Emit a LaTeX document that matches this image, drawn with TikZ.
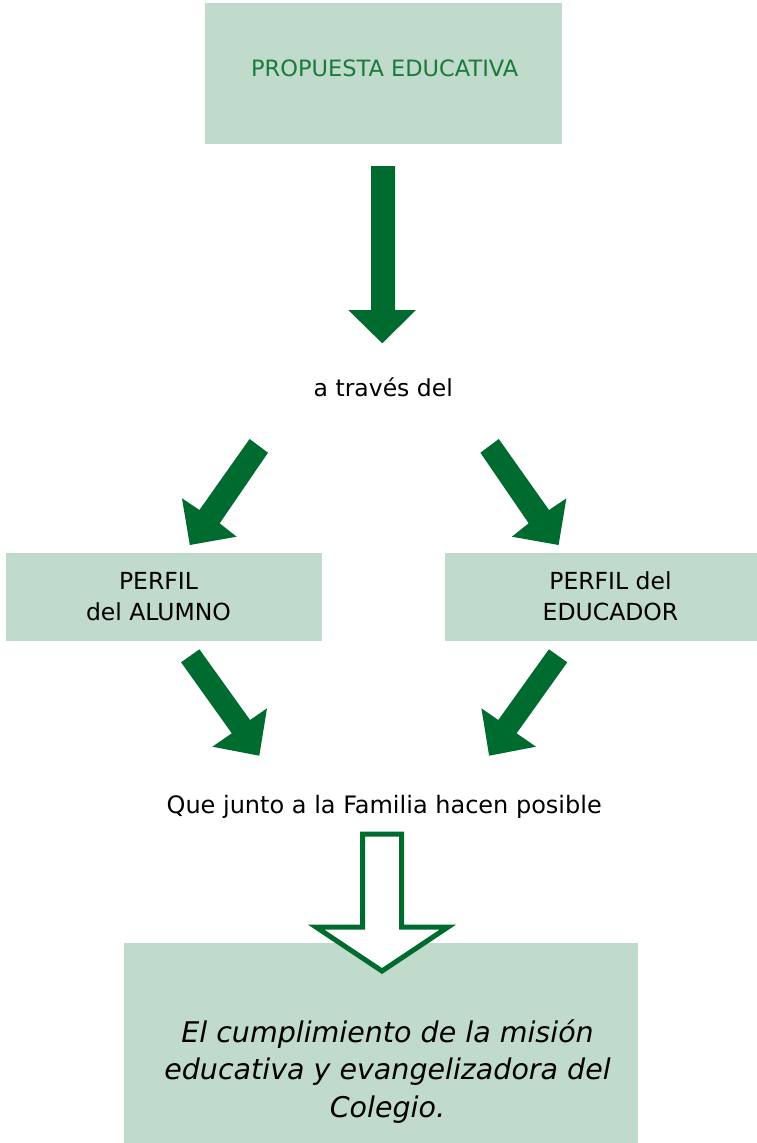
\documentclass[tikz,border=0pt]{standalone}
\usepackage{fontspec}
\setmainfont{DejaVu Sans}
\definecolor{boxfill}{RGB}{192,218,204}
\definecolor{arrowgreen}{RGB}{0,107,46}
\definecolor{titlegreen}{RGB}{26,122,58}
\begin{document}
\begin{tikzpicture}[x=1pt,y=-1pt,
  box/.style={fill=boxfill, draw=none, inner sep=0pt, rectangle},
  txt/.style={inner sep=0pt, text=black, font=\fontsize{23.5}{31}\selectfont},
  blockarrow/.style={fill=arrowgreen, draw=none},
  hollowarrow/.style={fill=white, draw=arrowgreen, line width=5pt, line join=miter, miter limit=10}]
\useasboundingbox (0,0) rectangle (757,1143);
% boxes
\node[box, minimum width=357pt, minimum height=141pt] (propuesta) at (383.5,73.5) {};
\node[box, minimum width=316pt, minimum height=88pt] (alumno) at (164,597) {};
\node[box, minimum width=312pt, minimum height=88pt] (educador) at (601,597) {};
\node[box, minimum width=514pt, minimum height=200pt] (mision) at (381,1043) {};
% texts
\node[txt, anchor=base, text=titlegreen, font=\fontsize{22.5}{28}\selectfont] (propuestatxt) at (384.7,76.7) {PROPUESTA EDUCATIVA};
\node[txt, anchor=base] (traves) at (383.3,396.7) {a través del};
\node[txt, align=center] (alumnotxt) at (158.5,596.7) {PERFIL\\del ALUMNO};
\node[txt, align=center] (educadortxt) at (610.5,596.4) {PERFIL del\\EDUCADOR};
\node[txt, anchor=base, font=\fontsize{24}{30}\selectfont] (familia) at (384.2,813.3) {Que junto a la Familia hacen posible};
% solid block arrows
\fill[blockarrow] (371,166) -- (395,166) -- (395,310) -- (416,310) -- (382.2,343.3) -- (348.3,310) -- (371,310) -- cycle;
\fill[blockarrow] (249.6,439) -- (268,452.7) -- (219.7,523.3) -- (236.6,536.7) -- (189.8,545) -- (182,498.3) -- (199.4,510) -- cycle;
\fill[blockarrow] (498.8,439) -- (480.4,452.7) -- (528.7,523.3) -- (511.8,536.7) -- (558.6,545) -- (566.4,498.3) -- (549,510) -- cycle;
\fill[blockarrow] (199.4,649.3) -- (181.1,662.3) -- (231.8,733.3) -- (212.4,746.7) -- (259.3,755.7) -- (267,708.3) -- (250.1,720) -- cycle;
\fill[blockarrow] (548.9,649.3) -- (567.3,662.3) -- (516.6,733.3) -- (536,746.7) -- (489.1,755.7) -- (481.4,708.3) -- (498.3,720) -- cycle;
% hollow arrow
\draw[hollowarrow] (362.5,834) -- (401.5,834) -- (401.5,927) -- (448,927) -- (382,971) -- (316,927) -- (362.5,927) -- cycle;
% mission text
\node[txt, align=center, font=\fontsize{28.5}{37.5}\selectfont\itshape] (misiontxt) at (387.5,1071.5) {El cumplimiento de la misión\\educativa y evangelizadora del\\Colegio.};
\end{tikzpicture}
\end{document}
